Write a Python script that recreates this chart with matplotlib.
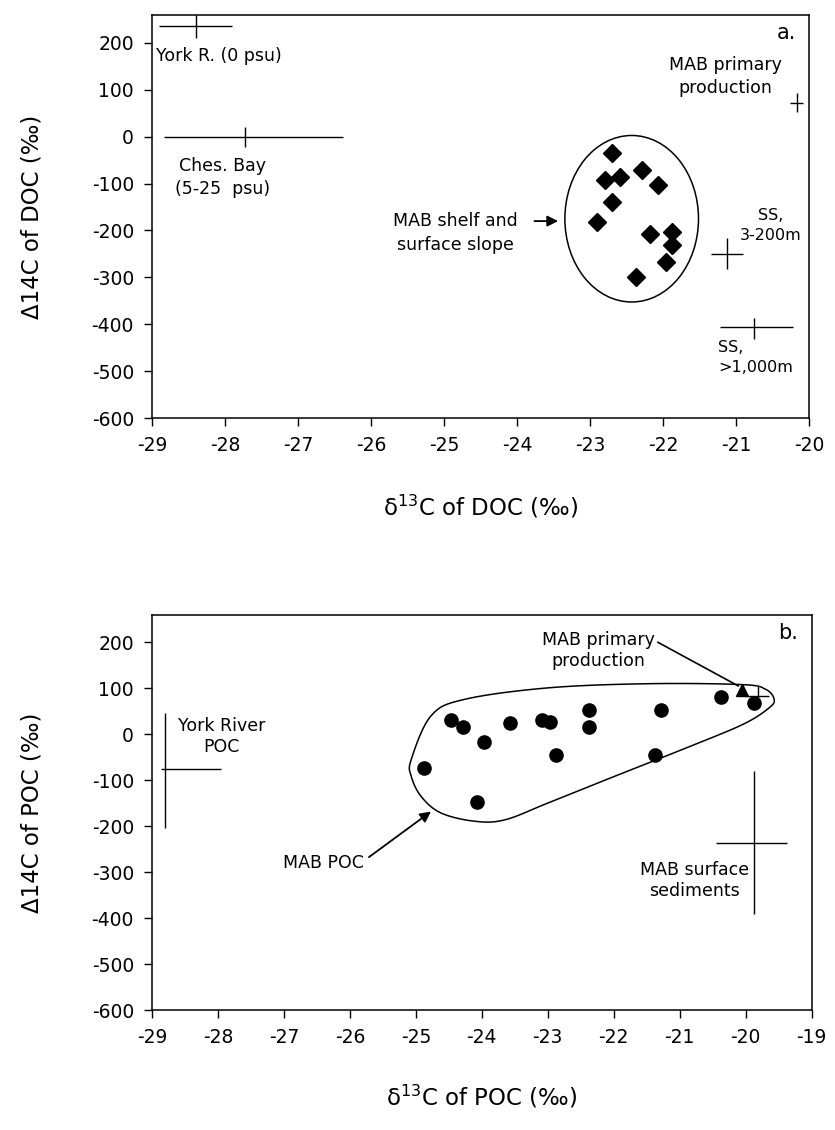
import numpy as np
import matplotlib.pyplot as plt
from matplotlib.patches import Ellipse, Polygon

plt.rcParams['font.family'] = ['DejaVu Sans']
plt.rcParams['axes.unicode_minus'] = False

# ---- panel a: DOC ----
doc_d13c = [-22.70, -22.79, -22.59, -22.29, -22.07, -22.70, -22.90,
            -22.18, -21.88, -21.88, -21.96, -22.37]
doc_d14c = [-34, -92, -87, -72, -104, -140, -183, -208, -203, -231, -268, -300]

# end-member crosses: x, y, x- / x+ extent, y- / y+ extent
a_names = ['York R.', 'Ches. Bay', 'MAB pp', 'SS 3-200m', 'SS >1000m']
a_x = [-28.40, -27.73, -20.17, -21.12, -20.76]
a_y = [235, 0, 72, -250, -405]
a_xlo = [0.50, 1.11, 0.09, 0.22, 0.46]
a_xhi = [0.50, 1.35, 0.08, 0.21, 0.54]
a_ylo = [24, 21, 20, 33, 26]
a_yhi = [24, 21, 20, 35, 19]

# ---- panel b: POC ----
poc_d13c = [-24.47, -24.28, -23.97, -24.88, -24.07, -23.58, -23.09, -22.97,
            -22.88, -22.37, -22.37, -21.28, -21.38, -20.38, -19.87]
poc_d14c = [32, 15, -16, -73, -147, 24, 32, 26, -44, 52, 16, 52, -44, 81, 69]

b_names = ['York River POC', 'MAB pp', 'MAB sediments']
b_x = [-28.80, -19.82, -19.88]
b_y = [-75, 83, -236]
b_xlo = [0.07, 0.19, 0.57]
b_xhi = [0.85, 0.17, 0.50]
b_ylo = [128, 22, 154]
b_yhi = [122, 23, 156]

pp_tri_x, pp_tri_y = -20.06, 97

# outline around MAB POC (hand traced)
blob_x = [-25.07, -24.77, -24.26, -22.99, -21.47, -20.05, -19.70, -19.57, -19.64,
          -20.05, -20.96, -21.98, -22.99, -23.65, -24.11, -24.62, -24.92, -25.07]
blob_y = [-55, 40, 76, 101, 110, 108, 98, 77, 58, 21, -33, -91, -149, -186,
          -189, -171, -135, -91]

yticks = list(range(-600, 201, 100))


def smooth_closed(xs, ys, n=20):
    # periodic catmull-rom through traced points
    p = np.column_stack([xs, ys]).astype(float)
    m = len(p)
    out = []
    for i in range(m):
        p0, p1, p2, p3 = p[i - 1], p[i], p[(i + 1) % m], p[(i + 2) % m]
        for t in np.linspace(0, 1, n, endpoint=False):
            t2, t3 = t * t, t * t * t
            out.append(0.5 * ((2 * p1) + (-p0 + p2) * t + (2 * p0 - 5 * p1 + 4 * p2 - p3) * t2
                              + (-p0 + 3 * p1 - 3 * p2 + p3) * t3))
    return np.array(out)


def style(ax, xmax, xlabel, ylabel, letter):
    ax.set_xlim(-29, xmax)
    ax.set_ylim(-600, 260)
    ax.set_xticks(range(-29, xmax + 1))
    ax.set_xticklabels([str(v) for v in range(-29, xmax + 1)])
    ax.set_yticks(yticks)
    ax.tick_params(direction='out', length=6, width=1, labelsize=13.5, pad=7,
                   top=False, right=False)
    for s in ax.spines.values():
        s.set_linewidth(1.1)
    ax.set_xlabel(xlabel, fontsize=16.5)
    ax.set_ylabel(ylabel, fontsize=16.5)
    ax.xaxis.set_label_coords(0.5, -0.185)
    ax.yaxis.set_label_coords(-0.165, 0.5)
    ax.text(0.965, 0.955, letter, transform=ax.transAxes, ha='center', va='center', fontsize=15)


fig = plt.figure(figsize=(8.35, 11.3), dpi=100)
ax1 = fig.add_axes([0.182, 0.630, 0.787, 0.357])
ax2 = fig.add_axes([0.182, 0.106, 0.790, 0.350])

fs = 12.5
ls = 1.4

# panel a
ax1.errorbar(a_x, a_y, xerr=[a_xlo, a_xhi], yerr=[a_ylo, a_yhi], fmt='none',
             ecolor='black', elinewidth=1, capsize=0)
ax1.plot(doc_d13c, doc_d14c, 'D', color='black', ms=9.5)
ax1.add_patch(Ellipse((-22.43, -175), 1.83, 355, fill=False, lw=1.1, ec='black'))
ax1.annotate('', xy=(-23.40, -180), xytext=(-23.80, -180),
             arrowprops=dict(arrowstyle='-|>', color='black', lw=1.3, mutation_scale=16))
ax1.text(-28.95, 172, 'York R. (0 psu)', ha='left', va='center', fontsize=fs)
ax1.text(-28.03, -87, 'Ches. Bay\n(5-25  psu)', ha='center', va='center', fontsize=fs,
         linespacing=ls)
ax1.text(-24.85, -205, 'MAB shelf and\nsurface slope', ha='center', va='center', fontsize=fs,
         linespacing=ls)
ax1.text(-21.15, 128, 'MAB primary\nproduction', ha='center', va='center', fontsize=fs,
         linespacing=ls)
ax1.text(-20.53, -190, 'SS,\n3-200m', ha='center', va='center', fontsize=fs - 1,
         linespacing=ls)
ax1.text(-21.25, -470, 'SS,\n>1,000m', ha='left', va='center', fontsize=fs - 1,
         linespacing=ls)
style(ax1, -20, 'δ$^{13}$C of DOC (‰)', 'Δ14C of DOC (‰)', 'a.')

# panel b
blob = smooth_closed(blob_x, blob_y)
ax2.add_patch(Polygon(blob, closed=True, fill=False, lw=1.1, ec='black'))
ax2.errorbar(b_x, b_y, xerr=[b_xlo, b_xhi], yerr=[b_ylo, b_yhi], fmt='none',
             ecolor='black', elinewidth=1, capsize=0)
ax2.plot(poc_d13c, poc_d14c, 'o', color='black', ms=9.5)
ax2.plot([pp_tri_x], [pp_tri_y], '^', color='black', ms=9)
ax2.annotate('MAB primary\nproduction', xy=(pp_tri_x - 0.05, pp_tri_y + 8), xytext=(-22.23, 182),
             ha='center', va='center', fontsize=fs, linespacing=1.25,
             arrowprops=dict(arrowstyle='-', color='black', lw=1.2, shrinkA=0, shrinkB=0,
                             relpos=(1.0, 0.75)))
ax2.annotate('MAB POC', xy=(-24.77, -168), xytext=(-26.40, -279), ha='center', va='center',
             fontsize=fs,
             arrowprops=dict(arrowstyle='-|>', color='black', lw=1.3, mutation_scale=16,
                             shrinkA=2, shrinkB=0, relpos=(1.0, 0.6)))
ax2.text(-27.94, -5, 'York River\nPOC', ha='center', va='center', fontsize=fs, linespacing=1.25)
ax2.text(-20.78, -318, 'MAB surface\nsediments', ha='center', va='center', fontsize=fs,
         linespacing=1.25)
style(ax2, -19, 'δ$^{13}$C of POC (‰)', 'Δ14C of POC (‰)', 'b.')

fig.savefig('out.png', dpi=100)
